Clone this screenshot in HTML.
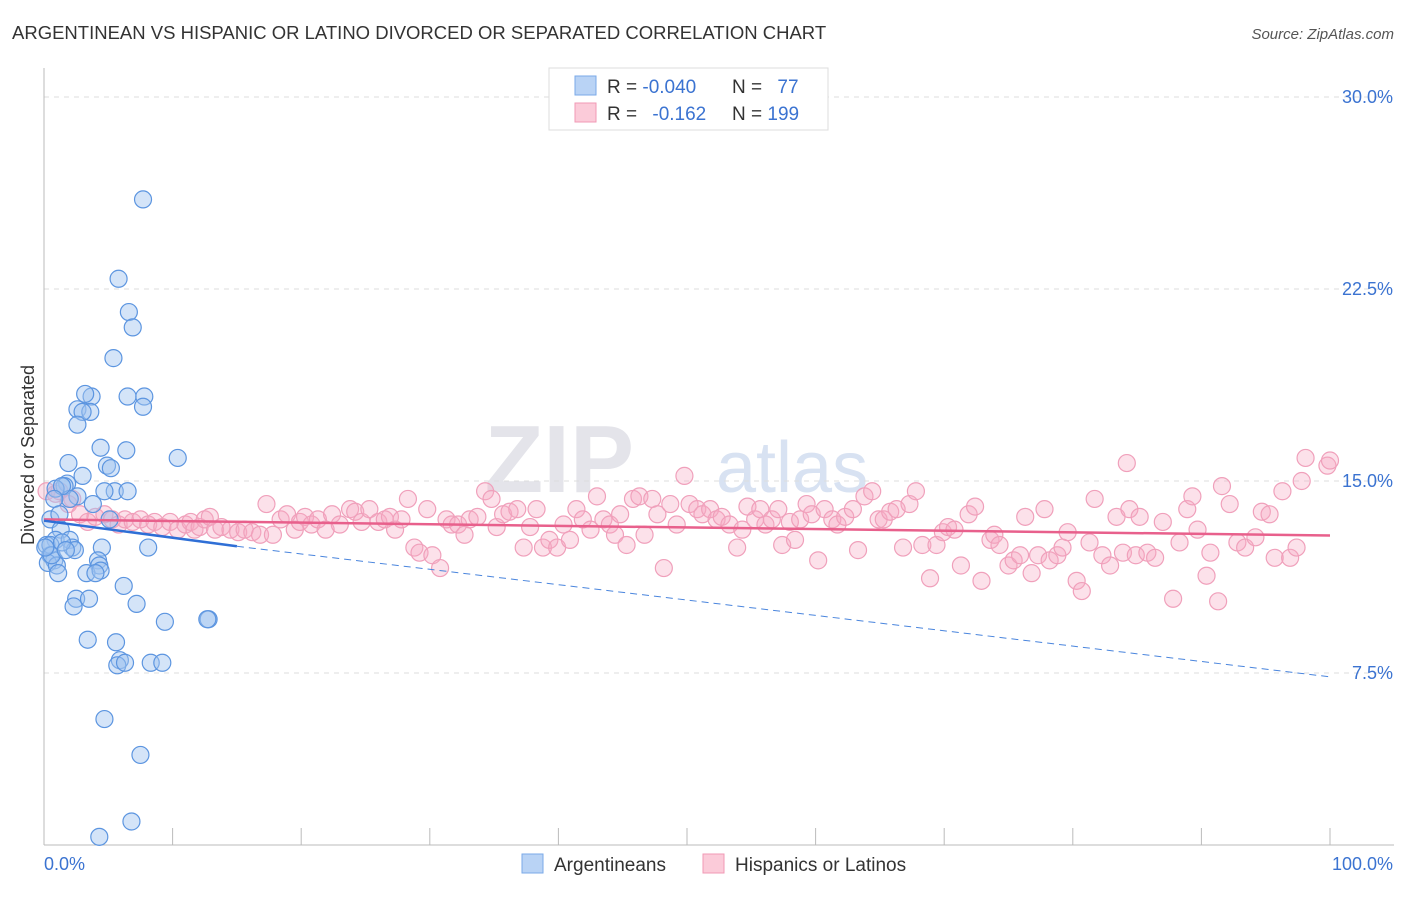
<!DOCTYPE html>
<html><head><meta charset="utf-8"><style>
body{margin:0;background:#fff;font-family:"Liberation Sans",sans-serif;}
svg text{font-family:"Liberation Sans",sans-serif;}
</style></head><body>
<svg id="chart" width="1406" height="892" xmlns="http://www.w3.org/2000/svg">
<text x="12" y="39" font-size="18.5" fill="#333">ARGENTINEAN VS HISPANIC OR LATINO DIVORCED OR SEPARATED CORRELATION CHART</text>
<text x="1394" y="39" font-size="15" fill="#555" font-style="italic" text-anchor="end">Source: ZipAtlas.com</text>
<text x="0" y="0" transform="translate(34,455) rotate(-90)" font-size="18" fill="#333" text-anchor="middle">Divorced or Separated</text>
<text x="634" y="492" font-size="96" fill="#e4e4ea" font-family="Liberation Serif" text-anchor="end" font-weight="bold">ZIP</text>
<text x="716" y="492" font-size="72" fill="#d8e2f2">atlas</text>
<g id="grid"></g>
<g id="axes"></g>
<g id="pinkpts"></g>
<g id="bluepts"></g>
<g id="lines"></g>
<g>
<rect x="549" y="68" width="279" height="62" fill="#fff" stroke="#ddd"/>
<rect x="575" y="76" width="21" height="19" fill="#b9d3f5" stroke="#7aaae8"/>
<rect x="575" y="103" width="21" height="19" fill="#fbcbd9" stroke="#f09ab5"/>
<text x="607" y="93" font-size="19" fill="#333">R = <tspan fill="#3b73d1">-0.040</tspan></text>
<text x="732" y="93" font-size="19" fill="#333">N = <tspan fill="#3b73d1" dx="10">77</tspan></text>
<text x="607" y="120" font-size="19" fill="#333">R = <tspan fill="#3b73d1" dx="10">-0.162</tspan></text>
<text x="732" y="120" font-size="19" fill="#333">N = <tspan fill="#3b73d1">199</tspan></text>
</g>
<g>
<rect x="522" y="854" width="21" height="19" fill="#b9d3f5" stroke="#7aaae8"/>
<text x="554" y="871" font-size="19" fill="#333">Argentineans</text>
<text x="735" y="871" font-size="19" fill="#333">Hispanics or Latinos</text>
<rect x="703" y="854" width="21" height="19" fill="#fbcbd9" stroke="#f09ab5"/>
</g>
</svg>
<script>
const yTicks=[7.5,15,22.5,30];
const yTickLabels=["7.5%","15.0%","22.5%","30.0%"];
const xTickLabels=["0.0%","100.0%"];
const blueX=[7.7,5.8,6.6,6.9,5.4,6.5,3.7,3.2,2.6,3.6,3.0,7.8,7.7,2.6,4.4,6.4,4.9,1.9,5.2,10.4,3.0,1.8,1.6,2.6,5.5,6.5,0.9,2.0,1.4,0.8,0.5,3.8,1.2,1.3,0.9,0.2,0.5,0.8,0.3,1.0,2.0,2.2,2.4,8.1,4.5,4.2,4.3,3.3,4.4,4.0,1.1,6.2,2.5,3.5,2.3,7.2,9.4,12.8,3.4,5.6,5.9,5.7,6.3,8.3,9.2,4.7,7.5,4.3,6.8,0.5,0.6,0.1,1.4,1.7,4.7,5.1,12.7];
const blueY=[26.0,22.9,21.6,21.0,19.8,18.3,18.3,18.4,17.8,17.7,17.7,18.3,17.9,17.2,16.3,16.2,15.6,15.7,15.5,15.9,15.2,14.9,14.8,14.4,14.6,14.6,14.7,14.3,14.8,14.3,13.5,14.1,13.7,13.1,12.7,12.5,12.1,11.9,11.8,11.7,12.7,12.4,12.3,12.4,12.4,11.9,11.7,11.4,11.5,11.4,11.4,10.9,10.4,10.4,10.1,10.2,9.5,9.6,8.8,8.7,8.0,7.8,7.9,7.9,7.9,5.7,4.3,1.1,1.7,12.5,12.1,12.4,12.6,12.3,14.6,13.5,9.6];
const pinkX=[0.2,0.9,1.2,2.2,1.9,2.8,3.4,4.0,4.7,5.3,5.8,6.3,6.9,7.5,8.1,8.6,9.2,9.8,10.4,11.0,11.4,11.7,12.1,12.5,12.9,13.3,13.8,14.5,15.1,15.6,16.2,16.8,17.3,17.8,18.4,18.9,19.5,19.9,20.3,20.8,21.3,21.9,22.4,23.0,23.8,24.2,24.7,25.3,26.0,26.5,26.9,27.3,27.8,28.3,28.8,29.2,29.8,30.2,30.8,31.3,31.7,32.2,32.7,33.1,33.7,34.3,34.8,35.2,35.7,36.2,36.8,37.3,37.8,38.3,38.8,39.3,39.9,40.4,40.9,41.4,41.9,42.5,43.0,43.5,44.0,44.4,44.8,45.3,45.8,46.3,46.7,47.3,47.7,48.2,48.7,49.2,49.8,50.2,50.8,51.2,51.8,52.3,52.7,53.3,53.9,54.3,54.7,55.3,55.7,56.1,56.6,57.1,57.4,58.0,58.4,58.8,59.3,59.7,60.2,60.7,61.3,61.7,62.3,62.9,63.3,63.8,64.4,64.9,65.3,65.8,66.3,66.8,67.3,67.8,68.3,68.9,69.4,69.9,70.3,70.8,71.3,71.9,72.4,72.9,73.6,73.9,74.3,75.0,75.4,75.9,76.3,76.8,77.3,77.8,78.2,78.8,79.2,79.6,80.3,80.7,81.3,81.7,82.3,82.9,83.4,83.9,84.4,84.9,85.2,85.8,86.4,87.0,87.8,88.3,88.9,89.3,89.7,90.7,90.4,91.3,91.6,92.2,92.8,93.4,94.2,94.7,95.3,95.7,96.3,96.9,97.4,97.8,98.1,99.8,100,84.2];
const pinkY=[14.6,14.5,14.6,14.3,14.1,13.7,13.4,13.6,13.7,13.5,13.3,13.5,13.4,13.5,13.3,13.4,13.2,13.4,13.1,13.3,13.4,13.1,13.2,13.5,13.6,13.1,13.2,13.1,13.0,13.1,13.0,12.9,14.1,12.9,13.5,13.7,13.1,13.4,13.6,13.3,13.5,13.1,13.7,13.3,13.9,13.8,13.4,13.9,13.4,13.5,13.6,13.1,13.5,14.3,12.4,12.2,13.9,12.1,11.6,13.5,13.3,13.3,12.9,13.5,13.6,14.6,14.3,13.2,13.7,13.8,13.9,12.4,13.2,13.9,12.4,12.7,12.4,13.3,12.7,13.9,13.5,13.1,14.4,13.5,13.3,12.9,13.7,12.5,14.3,14.4,12.9,14.3,13.7,11.6,14.1,13.3,15.2,14.1,13.9,13.7,13.9,13.5,13.6,13.3,12.4,13.1,14.0,13.5,13.9,13.3,13.5,13.9,12.5,13.4,12.7,13.5,14.1,13.7,11.9,13.9,13.5,13.3,13.6,13.9,12.3,14.4,14.6,13.5,13.5,13.8,13.9,12.4,14.1,14.6,12.5,11.2,12.5,13.0,13.2,13.1,11.7,13.7,14.0,11.1,12.7,12.9,12.5,11.7,11.9,12.1,13.6,11.4,12.1,13.9,11.9,12.1,12.4,13.0,11.1,10.7,12.6,14.3,12.1,11.7,13.6,12.2,13.9,12.1,13.6,12.2,12.0,13.4,10.4,12.6,13.9,14.4,13.1,12.2,11.3,10.3,14.8,14.1,12.6,12.4,12.8,13.8,13.7,12.0,14.6,12.0,12.4,15.0,15.9,15.6,15.8,15.7];
const ns="http://www.w3.org/2000/svg";
const X0=44,X1=1330,YB=865,PPU=25.6;
function sx(v){return X0+(X1-X0)*v/100;}
function sy(v){return YB-v*PPU;}
function mk(t,a,p){const e=document.createElementNS(ns,t);for(const k in a)e.setAttribute(k,a[k]);p.appendChild(e);return e;}
const grid=document.getElementById('grid'),axes=document.getElementById('axes');
yTicks.forEach((t,i)=>{
  const l=mk('line',{x1:44,x2:1394,y1:sy(t),y2:sy(t),stroke:'#ddd','stroke-dasharray':'5,5'},grid);
  
  
  const tx=mk('text',{x:1393,y:sy(t)+6,'font-size':18,fill:'#3b73d1','text-anchor':'end'},grid);
  tx.textContent=yTickLabels[i];
  
  
});
const xl=mk('line',{x1:44,x2:1394,y1:845,y2:845,stroke:'#bbb'},axes);


const yl=mk('line',{x1:44,x2:44,y1:68,y2:845,stroke:'#bbb'},axes);


for(let i=1;i<=10;i++){
  const t=mk('line',{x1:sx(i*10),x2:sx(i*10),y1:828,y2:845,stroke:'#bbb'},axes);
  
  
}
[[0,'start'],[100,'end']].forEach((d,i)=>{
  const t=mk('text',{x:i?1393:44,y:870,'font-size':18,fill:'#3b73d1','text-anchor':d[1]},axes);
  t.textContent=xTickLabels[i];
  
  
});
const pg=document.getElementById('pinkpts');
pinkX.forEach((x,i)=>{
  const c=mk('circle',{cx:sx(x),cy:sy(pinkY[i]),r:8.5,fill:'rgba(246,168,194,0.35)',stroke:'#f0a0bb','stroke-width':1.2},pg);
  
  
});
const bg=document.getElementById('bluepts');
blueX.forEach((x,i)=>{
  const c=mk('circle',{cx:sx(x),cy:sy(blueY[i]),r:8.5,fill:'rgba(160,195,240,0.45)',stroke:'#5c95e0','stroke-width':1.2},bg);
  
  
});
const lg=document.getElementById('lines');
const pl=mk('line',{x1:sx(0),y1:sy(13.5),x2:sx(100),y2:sy(12.87),stroke:'#e8608c','stroke-width':2.5},lg);


const bl=mk('line',{x1:sx(0),y1:sy(13.45),x2:sx(15),y2:sy(12.45),stroke:'#2f6fd6','stroke-width':2.5},lg);


const bd=mk('line',{x1:sx(15),y1:sy(12.45),x2:sx(100),y2:sy(7.35),stroke:'#4a85dd','stroke-width':1,'stroke-dasharray':'7,5'},lg);


</script>
</body></html>
